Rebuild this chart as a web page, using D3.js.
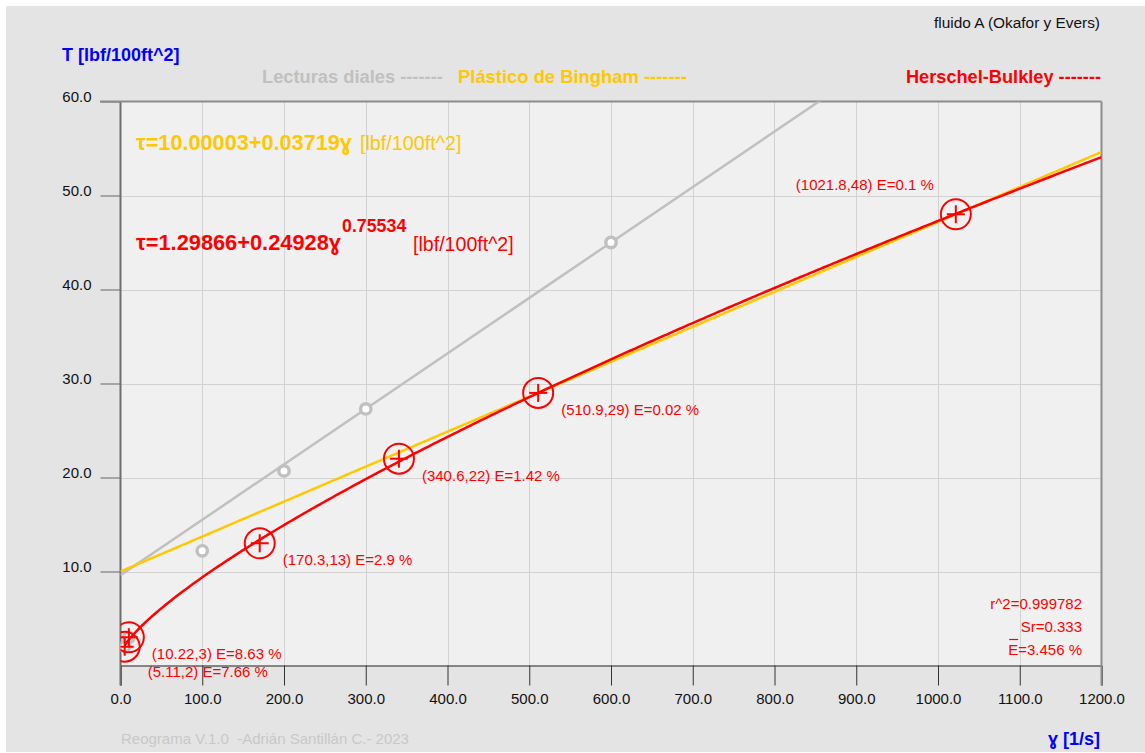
<!DOCTYPE html>
<html>
<head>
<meta charset="utf-8">
<script src="https://cdn.jsdelivr.net/npm/d3@7/dist/d3.min.js"></script>
<style>
  html, body { margin: 0; padding: 0; background: #ffffff; }
  svg { display: block; }
  text { font-family: "Liberation Sans", Arial, "DejaVu Sans", sans-serif; }
</style>
</head>
<body>
<svg id="chart" width="1145" height="753"></svg>
<script>
// Measured points: shear rate [1/s] and shear stress [lbf/100ft^2]
const shearRates = [5.11, 10.22, 170.3, 340.6, 510.9, 1021.8];
const measuredStress = [2, 3, 13, 22, 29, 48];
const pointErrors = [7.66, 8.63, 2.9, 1.42, 0.02, 0.1];

// Viscometer dial readings
const dialRates = [5.11, 10.22, 100, 200, 300, 600];
const dialReadings = [2, 3, 12.2, 20.7, 27.3, 45];

// Model coefficients
const binghamCoef = [10.00003, 0.03719];          // tau0, plastic viscosity
const hbCoef = [1.29866, 0.24928, 0.75534];        // tau0, K, n

// Fit statistics
const statR2 = "0.999782";
const statSr = "0.333";
const statEbar = "3.456";

// Axis ticks
const xTicks = [0, 100, 200, 300, 400, 500, 600, 700, 800, 900, 1000, 1100, 1200];
const yTicks = [10, 20, 30, 40, 50, 60];

const svg = d3.select("#chart");
const W = 1145, H = 753;

// Canvas
svg.append("rect").attr("x", 0).attr("y", 0).attr("width", W).attr("height", H).attr("fill", "#ffffff");
svg.append("rect").attr("x", 6).attr("y", 6).attr("width", W - 6).attr("height", H - 7).attr("fill", "#e4e4e4");

const x = d3.scaleLinear().domain([0, 1200]).range([120.5, 1101.5]);
const y = d3.scaleLinear().domain([0, 60]).range([665.5, 101.5]);

// Plot background
svg.append("rect")
  .attr("x", x(0)).attr("y", y(60))
  .attr("width", x(1200) - x(0)).attr("height", y(0) - y(60))
  .attr("fill", "#f0f0f0");

svg.append("defs").append("clipPath").attr("id", "plotClip")
  .append("rect")
  .attr("x", x(0)).attr("y", y(60))
  .attr("width", x(1200) - x(0)).attr("height", y(0) - y(60));

// Grid
const grid = svg.append("g");
grid.selectAll("line.v").data(xTicks.filter(d => d > 0 && d < 1200)).join("line")
  .attr("x1", d => Math.round(x(d)) + 0.5).attr("x2", d => Math.round(x(d)) + 0.5)
  .attr("y1", y(60)).attr("y2", y(0))
  .attr("stroke", "#d2d2d2").attr("stroke-width", 1);
grid.selectAll("line.h").data(yTicks.filter(d => d < 60)).join("line")
  .attr("x1", x(0)).attr("x2", x(1200))
  .attr("y1", d => Math.round(y(d)) + 0.5).attr("y2", d => Math.round(y(d)) + 0.5)
  .attr("stroke", "#d2d2d2").attr("stroke-width", 1);

// X axis
const xAxis = d3.axisBottom(x).tickValues(xTicks).tickSize(20).tickPadding(8)
  .tickFormat(d => d3.format(".1f")(d));
const gx = svg.append("g").attr("transform", `translate(0,${y(0)})`).call(xAxis);
gx.select(".domain").attr("stroke", "#222222");
gx.selectAll(".tick line").attr("stroke", "#333333");
gx.selectAll(".tick text").attr("fill", "#111111").attr("font-size", 15)
  .attr("font-family", "'Liberation Sans', Arial, sans-serif");

// Y axis
const yAxis = d3.axisLeft(y).tickValues(yTicks).tickSize(20).tickPadding(9)
  .tickFormat(d => d3.format(".1f")(d));
const gy = svg.append("g").attr("transform", `translate(${x(0)},0)`).call(yAxis);
gy.select(".domain").remove();
gy.selectAll(".tick line").attr("stroke", "#666666");
gy.selectAll(".tick text").attr("fill", "#111111").attr("font-size", 15)
  .attr("dy", "0").attr("y", 0)
  .attr("font-family", "'Liberation Sans', Arial, sans-serif");

// Frame: left axis, top and right borders
svg.append("line").attr("x1", x(0)).attr("x2", x(0)).attr("y1", y(60)).attr("y2", y(0) + 20)
  .attr("stroke", "#6e6e6e").attr("stroke-width", 2);
svg.append("line").attr("x1", 100).attr("x2", x(1200)).attr("y1", y(60)).attr("y2", y(60))
  .attr("stroke", "#8c8c8c").attr("stroke-width", 2);
svg.append("line").attr("x1", x(1200)).attr("x2", x(1200)).attr("y1", y(60)).attr("y2", y(0) + 20)
  .attr("stroke", "#8c8c8c").attr("stroke-width", 2);

const plot = svg.append("g").attr("clip-path", "url(#plotClip)");

// Line through the 300 and 600 rpm readings, extended across the plot
const i300 = dialRates.indexOf(300), i600 = dialRates.indexOf(600);
const pvSlope = (dialReadings[i600] - dialReadings[i300]) / (dialRates[i600] - dialRates[i300]);
const pvIntercept = dialReadings[i300] - pvSlope * dialRates[i300];
plot.append("line")
  .attr("x1", x(0)).attr("y1", y(pvIntercept))
  .attr("x2", x(1200)).attr("y2", y(pvIntercept + pvSlope * 1200))
  .attr("stroke", "#c0c0c0").attr("stroke-width", 2.5);

// Dial reading markers
plot.selectAll("circle.dial").data(dialRates.map((r, i) => [r, dialReadings[i]])).join("circle")
  .attr("cx", d => x(d[0])).attr("cy", d => y(d[1])).attr("r", 5.2)
  .attr("fill", "#ffffff").attr("stroke", "#c0c0c0").attr("stroke-width", 3.4);

// Bingham plastic model
const gammaGrid = d3.range(0, 1200.01, 4);
const line = d3.line().x(d => x(d[0])).y(d => y(d[1]));
plot.append("path")
  .datum(gammaGrid.map(g => [g, binghamCoef[0] + binghamCoef[1] * g]))
  .attr("d", line).attr("fill", "none")
  .attr("stroke", "#ffc800").attr("stroke-width", 2.5);

// Herschel-Bulkley model
const hbGrid = [shearRates[0]].concat(gammaGrid.filter(g => g > shearRates[0]));
plot.append("path")
  .datum(hbGrid.map(g => [g, hbCoef[0] + hbCoef[1] * Math.pow(g, hbCoef[2])]))
  .attr("d", line).attr("fill", "none")
  .attr("stroke", "#ff0000").attr("stroke-width", 2.5);

// Measured point markers: circle with cross
const pts = shearRates.map((r, i) => ({ r, s: measuredStress[i], e: pointErrors[i] }));
const mk = plot.selectAll("g.pt").data(pts).join("g")
  .attr("transform", d => `translate(${x(d.r)},${y(d.s)})`);
mk.append("circle").attr("r", 15).attr("fill", "none").attr("stroke", "#ff0000").attr("stroke-width", 2);
mk.append("line").attr("x1", -9).attr("x2", 9).attr("stroke", "#ff0000").attr("stroke-width", 2);
mk.append("line").attr("y1", -9).attr("y2", 9).attr("stroke", "#ff0000").attr("stroke-width", 2);

// Point annotations (offsets in px from the marker)
const labelLayout = [
  { dx: 23, dy: 30, anchor: "start" },
  { dx: 23, dy: 22, anchor: "start" },
  { dx: 23, dy: 22, anchor: "start" },
  { dx: 23, dy: 22, anchor: "start" },
  { dx: 23, dy: 22, anchor: "start" },
  { dx: -22, dy: -24, anchor: "end" }
];
svg.append("g").selectAll("text").data(pts).join("text")
  .attr("x", (d, i) => x(d.r) + labelLayout[i].dx)
  .attr("y", (d, i) => y(d.s) + labelLayout[i].dy)
  .attr("text-anchor", (d, i) => labelLayout[i].anchor)
  .attr("fill", "#ff0000").attr("font-size", 15)
  .text(d => `(${d.r},${d.s}) E=${d.e} %`);

// Axis titles
svg.append("text").attr("x", 62).attr("y", 61).attr("fill", "#0000ff")
  .attr("font-size", 18).attr("font-weight", "bold").text("T [lbf/100ft^2]");
svg.append("text").attr("x", 1100).attr("y", 745).attr("text-anchor", "end").attr("fill", "#0000ff")
  .attr("font-size", 18).attr("font-weight", "bold").text("ɣ [1/s]");

// Title
svg.append("text").attr("x", 1100).attr("y", 28).attr("text-anchor", "end").attr("fill", "#111111")
  .attr("font-size", 15.4).text("fluido A (Okafor y Evers)");

// Legend
svg.append("text").attr("x", 262).attr("y", 83).attr("fill", "#c0c0c0")
  .attr("font-size", 18.3).attr("font-weight", "bold").text("Lecturas diales -------");
svg.append("text").attr("x", 458).attr("y", 83).attr("fill", "#ffc800")
  .attr("font-size", 18.4).attr("font-weight", "bold").text("Plástico de Bingham -------");
svg.append("text").attr("x", 1101).attr("y", 83).attr("text-anchor", "end").attr("fill", "#ff0000")
  .attr("font-size", 18.2).attr("font-weight", "bold").text("Herschel-Bulkley -------");

// Model equations
const eqB = svg.append("text").attr("x", 136).attr("y", 150).attr("fill", "#ffc800");
eqB.append("tspan").attr("font-size", 21.7).attr("font-weight", "bold")
  .text(`τ=${binghamCoef[0].toFixed(5)}+${binghamCoef[1].toFixed(5)}ɣ`);
eqB.append("tspan").attr("font-size", 19.8).attr("dx", 8).text("[lbf/100ft^2]");

svg.append("text").attr("x", 136).attr("y", 250).attr("fill", "#ff0000")
  .attr("font-size", 21.8).attr("font-weight", "bold")
  .text(`τ=${hbCoef[0].toFixed(5)}+${hbCoef[1].toFixed(5)}ɣ`);
svg.append("text").attr("x", 342).attr("y", 232).attr("fill", "#ff0000")
  .attr("font-size", 17.8).attr("font-weight", "bold").text(hbCoef[2].toFixed(5));
svg.append("text").attr("x", 413).attr("y", 251).attr("fill", "#ff0000")
  .attr("font-size", 19.6).text("[lbf/100ft^2]");

// Fit statistics
const st = svg.append("g").attr("fill", "#ff0000").attr("font-size", 15).attr("text-anchor", "end");
st.append("text").attr("x", 1082).attr("y", 609).text(`r^2=${statR2}`);
st.append("text").attr("x", 1082).attr("y", 632).text(`Sr=${statSr}`);
const eText = st.append("text").attr("x", 1082).attr("y", 655).text(`E=${statEbar} %`);
const eb = eText.node().getBBox();
svg.append("line").attr("x1", eb.x + 1).attr("x2", eb.x + 10)
  .attr("y1", 639.5).attr("y2", 639.5).attr("stroke", "#ff0000").attr("stroke-width", 1.2);

// Footer
svg.append("text").attr("x", 121).attr("y", 744).attr("fill", "#c8c8c8")
  .attr("font-size", 15).attr("xml:space", "preserve").style("white-space", "pre")
  .text("Reograma V.1.0  -Adrián Santillán C.- 2023");
</script>
</body>
</html>
